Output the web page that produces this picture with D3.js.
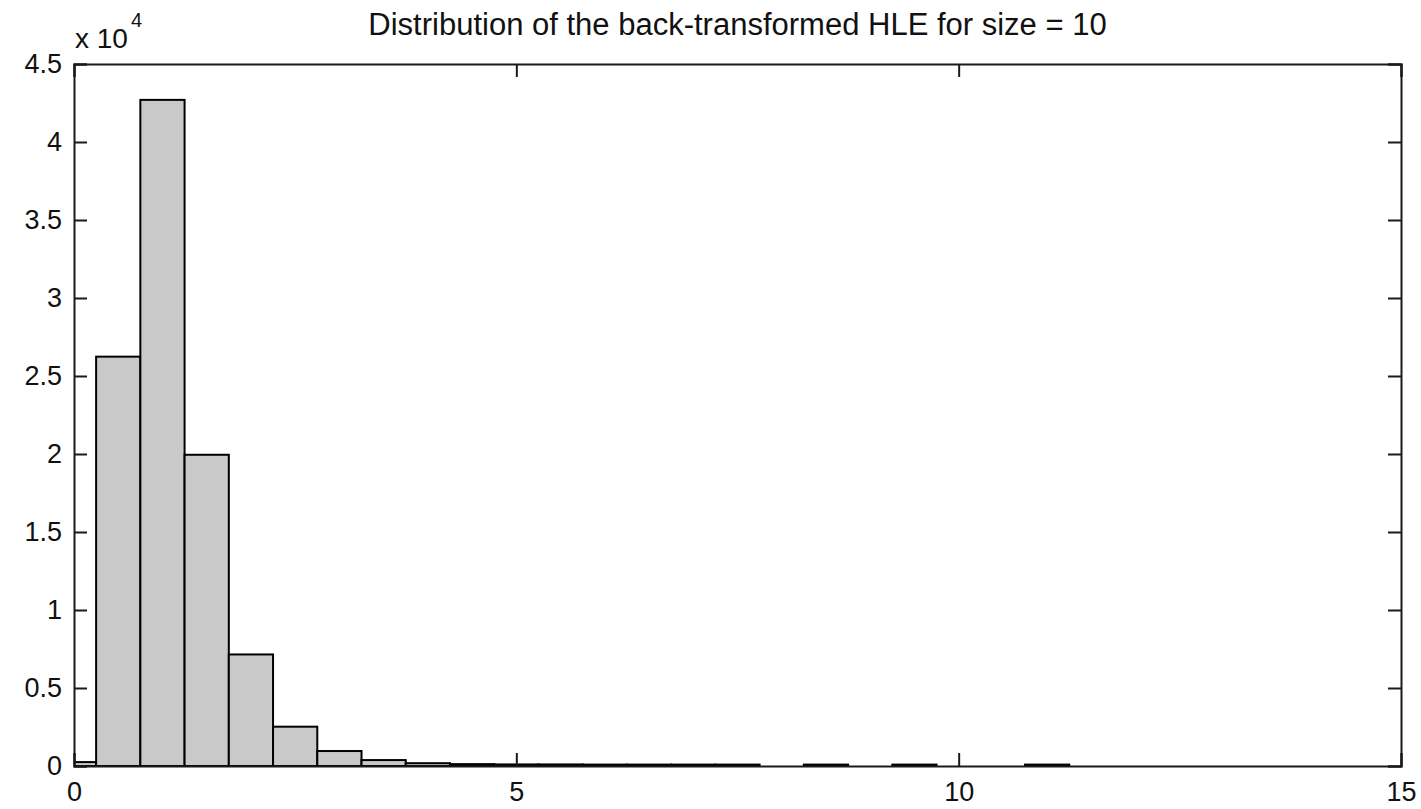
<!DOCTYPE html>
<meta charset="utf-8" />
<style>
    body { margin: 0; background: #fff; }
    text { font-family: "Liberation Sans", Arial, Helvetica, sans-serif; fill: #111; }
</style>
<title>Distribution of the back-transformed HLE</title>
<body></body>
<script src="https://cdn.jsdelivr.net/npm/d3@7/dist/d3.min.js"></script>
<script>

    // histogram bins (centres) and their counts
    var binCenters = [0, 0.5, 1, 1.5, 2, 2.5, 3, 3.5, 4, 4.5, 5, 5.5, 6, 6.5, 7, 7.5,
                      8, 8.5, 9, 9.5, 10, 10.5, 11];
    var counts = [250, 26240, 42700, 19950, 7150, 2520, 960, 380, 180, 120, 100, 100, 90, 90, 90, 90,
                  0, 90, 0, 90, 0, 0, 90];
    var binWidth = 0.5;

    var xTicks = [0, 5, 10, 15];
    var yTicks = [0, 5000, 10000, 15000, 20000, 25000, 30000, 35000, 40000, 45000];
    var titleText = "Distribution of the back-transformed HLE for size = 10";

    var bins = binCenters.map(function (c, i) { return {x0: c - binWidth / 2, x1: c + binWidth / 2, n: counts[i]}; });

    var svgWidth = 1421;
    var svgHeight = 809;
    var margin = {top: 64, right: 20, bottom: 43, left: 74};
    var width = svgWidth - margin.left - margin.right;
    var height = svgHeight - margin.top - margin.bottom;

    var svg = d3.select("body")
        .append("svg")
        .attr("width", svgWidth)
        .attr("height", svgHeight);

    svg.append("defs")
        .append("clipPath")
        .attr("id", "clip")
        .append("rect")
        .attr("width", width)
        .attr("height", height);

    var x = d3.scaleLinear().domain([0, 15]).range([0, width]);
    var y = d3.scaleLinear().domain([0, 45000]).range([height, 0]);

    var g = svg.append("g")
        .attr("transform", "translate(" + margin.left + "," + margin.top + ")");

    // bars
    g.append("g")
        .attr("clip-path", "url(#clip)")
        .selectAll("rect")
        .data(bins)
        .enter().append("rect")
        .attr("x", function (d) { return x(d.x0); })
        .attr("width", function (d) { return x(d.x1) - x(d.x0); })
        .attr("y", function (d) { return y(d.n); })
        .attr("height", function (d) { return y(0) - y(d.n); })
        .attr("fill", "#c9c9c9")
        .attr("stroke", "#000")
        .attr("stroke-width", 2)
        .attr("display", function (d) { return d.n > 0 ? null : "none"; });

    var tk = 13;
    var fontSize = 27;

    // axes, MATLAB style: ticks pointing inward on all four sides
    var gxb = g.append("g")
        .attr("transform", "translate(0," + height + ")")
        .call(d3.axisBottom(x).tickValues(xTicks).tickSize(-tk).tickPadding(16).tickFormat(d3.format("d")));
    var gxt = g.append("g")
        .call(d3.axisTop(x).tickValues(xTicks).tickSize(-tk).tickFormat(""));
    var gyl = g.append("g")
        .call(d3.axisLeft(y).tickValues(yTicks).tickSize(-tk).tickPadding(12)
            .tickFormat(function (d) { return d3.format("~g")(d / 1e4); }));
    var gyr = g.append("g")
        .attr("transform", "translate(" + width + ",0)")
        .call(d3.axisRight(y).tickValues(yTicks).tickSize(-tk).tickFormat(""));

    g.selectAll(".domain").attr("stroke", "#1a1a1a").attr("stroke-width", 2);
    g.selectAll(".tick line").attr("stroke", "#1a1a1a").attr("stroke-width", 2);
    g.selectAll(".tick text")
        .style("font-family", "'Liberation Sans', Arial, sans-serif")
        .style("font-size", fontSize + "px")
        .attr("fill", "#111");

    // exponent label
    var expo = svg.append("text")
        .attr("x", 75)
        .attr("y", 48)
        .style("font-size", "28px");
    expo.append("tspan").text("x 10");
    expo.append("tspan").attr("dx", 3).attr("dy", -21).style("font-size", "20px").text("4");

    // title
    svg.append("text")
        .attr("x", margin.left + width / 2)
        .attr("y", 35)
        .attr("text-anchor", "middle")
        .style("font-size", "31px")
        .text(titleText);

</script>
